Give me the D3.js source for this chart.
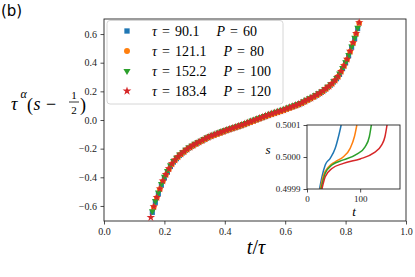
<!DOCTYPE html>
<meta charset="utf-8">
<svg width="415" height="277"></svg>
<style>
  body { margin: 0; background: #fff; }
  svg { display: block; font-family: "Liberation Serif", serif; }
</style>
<script src="https://d3js.org/d3.v7.min.js"></script>
<script>
// legend labels
var tauLabels = ["90.1", "121.1", "152.2", "183.4"];
var pLabels = ["60", "80", "100", "120"];
var colors = ["#1f77b4", "#ff7f0e", "#2ca02c", "#d62728"];

// main panel: t/tau and tau^alpha (s - 1/2), one pair of arrays per run
var blueT = [0.16,0.17,0.18,0.19,0.20,0.21,0.22,0.23,0.24,0.25,0.26,0.27,0.28,0.29,0.30,0.31,0.32,0.33,0.34,0.35,0.36,0.37,0.38,0.39,0.40,0.41,0.42,0.43,0.44,0.45,0.46,0.47,0.48,0.49,0.50,
             0.51,0.52,0.53,0.54,0.55,0.56,0.57,0.58,0.59,0.60,0.61,0.62,0.63,0.64,0.65,0.66,0.67,0.68,0.69,0.70,0.71,0.72,0.73,0.74,0.75,0.76,0.77,0.78,0.79,0.80,0.81,0.82,0.83,0.84];
var blueV = [-0.645,-0.575,-0.515,-0.455,-0.405,-0.365,-0.325,-0.294,-0.270,-0.248,-0.230,-0.213,-0.197,-0.185,-0.172,-0.161,-0.150,-0.139,-0.128,-0.117,-0.109,-0.101,-0.093,-0.085,-0.077,-0.070,-0.063,-0.056,-0.049,-0.042,-0.034,-0.026,-0.018,-0.010,-0.002,
             0.006,0.014,0.022,0.030,0.038,0.045,0.052,0.059,0.066,0.073,0.081,0.089,0.097,0.105,0.113,0.124,0.135,0.146,0.157,0.168,0.181,0.193,0.209,0.226,0.243,0.265,0.288,0.318,0.358,0.398,0.448,0.508,0.568,0.638];

var orangeT = [0.165,0.175,0.185,0.195,0.205,0.215,0.225,0.235,0.245,0.255,0.265,0.275,0.285,0.295,0.305,0.315,0.325,0.335,0.345,0.355,0.365,0.375,0.385,0.395,0.405,0.415,0.425,0.435,0.445,0.455,0.465,0.475,0.485,0.495,
               0.505,0.515,0.525,0.535,0.545,0.555,0.565,0.575,0.585,0.595,0.605,0.615,0.625,0.635,0.645,0.655,0.665,0.675,0.685,0.695,0.705,0.715,0.725,0.735,0.745,0.755,0.765,0.775,0.785,0.795,0.805,0.815,0.825,0.835,0.845];
var orangeV = [-0.608,-0.543,-0.483,-0.428,-0.383,-0.343,-0.308,-0.281,-0.259,-0.239,-0.223,-0.206,-0.192,-0.179,-0.167,-0.156,-0.145,-0.134,-0.123,-0.114,-0.106,-0.098,-0.090,-0.082,-0.074,-0.067,-0.060,-0.053,-0.046,-0.039,-0.031,-0.023,-0.015,-0.007,
               0.001,0.009,0.017,0.025,0.033,0.040,0.047,0.054,0.061,0.068,0.076,0.084,0.092,0.100,0.108,0.117,0.128,0.139,0.150,0.161,0.173,0.186,0.200,0.217,0.233,0.253,0.275,0.302,0.337,0.377,0.422,0.477,0.537,0.602,0.677];

var greenT = [0.16,0.17,0.18,0.19,0.20,0.21,0.22,0.23,0.24,0.25,0.26,0.27,0.28,0.29,0.30,0.31,0.32,0.33,0.34,0.35,0.36,0.37,0.38,0.39,0.40,0.41,0.42,0.43,0.44,0.45,0.46,0.47,0.48,0.49,0.50,
              0.51,0.52,0.53,0.54,0.55,0.56,0.57,0.58,0.59,0.60,0.61,0.62,0.63,0.64,0.65,0.66,0.67,0.68,0.69,0.70,0.71,0.72,0.73,0.74,0.75,0.76,0.77,0.78,0.79,0.80,0.81,0.82,0.83,0.84];
var greenV = [-0.636,-0.566,-0.506,-0.446,-0.396,-0.356,-0.316,-0.286,-0.263,-0.241,-0.224,-0.207,-0.191,-0.179,-0.166,-0.155,-0.144,-0.133,-0.122,-0.111,-0.103,-0.095,-0.087,-0.079,-0.071,-0.064,-0.057,-0.050,-0.043,-0.036,-0.028,-0.020,-0.012,-0.004,0.004,
              0.012,0.020,0.028,0.036,0.044,0.051,0.058,0.065,0.072,0.079,0.087,0.095,0.103,0.111,0.119,0.130,0.141,0.152,0.163,0.174,0.187,0.199,0.215,0.232,0.249,0.271,0.294,0.324,0.364,0.404,0.454,0.514,0.574,0.644];

var redT = [0.155,0.165,0.175,0.185,0.195,0.205,0.215,0.225,0.235,0.245,0.255,0.265,0.275,0.285,0.295,0.305,0.315,0.325,0.335,0.345,0.355,0.365,0.375,0.385,0.395,0.405,0.415,0.425,0.435,0.445,0.455,0.465,0.475,0.485,0.495,
            0.505,0.515,0.525,0.535,0.545,0.555,0.565,0.575,0.585,0.595,0.605,0.615,0.625,0.635,0.645,0.655,0.665,0.675,0.685,0.695,0.705,0.715,0.725,0.735,0.745,0.755,0.765,0.775,0.785,0.795,0.805,0.815,0.825,0.835,0.845];
var redV = [-0.680,-0.605,-0.540,-0.480,-0.425,-0.380,-0.340,-0.305,-0.278,-0.256,-0.236,-0.220,-0.203,-0.189,-0.176,-0.164,-0.153,-0.142,-0.131,-0.120,-0.111,-0.103,-0.095,-0.087,-0.079,-0.071,-0.064,-0.057,-0.050,-0.043,-0.036,-0.028,-0.020,-0.012,-0.004,
            0.004,0.012,0.020,0.028,0.036,0.043,0.050,0.057,0.064,0.071,0.079,0.087,0.095,0.103,0.111,0.120,0.131,0.142,0.153,0.164,0.176,0.189,0.203,0.220,0.236,0.256,0.278,0.305,0.340,0.380,0.425,0.480,0.540,0.605,0.680];

// inset: t and s
var inBlueT = [23.6,28.1,34.3,43.7,53.1,59.3,64.3];
var inBlueS = [0.4999,0.499938,0.499975,0.499996,0.500027,0.500064,0.5001];
var inOrangeT = [25,31.1,40.5,53.1,68.6,81.2,89.3,93.8];
var inOrangeS = [0.4999,0.499943,0.499969,0.499985,0.500001,0.500027,0.500064,0.5001];
var inGreenT = [26.3,34.3,46.9,68.6,93.8,109.3,117.4,121.1];
var inGreenS = [0.4999,0.499949,0.499975,0.499991,0.500009,0.500032,0.500064,0.5001];
var inRedT = [28.1,34.3,46.9,68.6,100,124.9,140.6,146.8,150.6];
var inRedS = [0.4999,0.499938,0.499964,0.49998,0.499994,0.500012,0.500038,0.500064,0.5001];

var xTicks = [0, 0.2, 0.4, 0.6, 0.8, 1.0];
var yTicks = [-0.6, -0.4, -0.2, 0, 0.2, 0.4, 0.6];
var inXTicks = [0, 100];
var inYTicks = [0.4999, 0.5000, 0.5001];

var svg = d3.select("svg");
var ink = "#222";

var x = d3.scaleLinear().domain([0, 1]).range([104, 406]);
var y = d3.scaleLinear().domain([-0.705, 0.705]).range([221, 19]);

var fmt1 = d3.format(".1f");

var gx = svg.append("g")
    .attr("transform", "translate(0," + 221 + ")")
    .call(d3.axisBottom(x).tickValues(xTicks).tickFormat(fmt1).tickSizeOuter(0).tickSize(3.5).tickPadding(3));
var gy = svg.append("g")
    .attr("transform", "translate(" + 104 + ",0)")
    .call(d3.axisLeft(y).tickValues(yTicks).tickFormat(fmt1).tickSizeOuter(0).tickSize(3.5).tickPadding(3.5));
[gx, gy].forEach(function(g) {
  g.select(".domain").remove();
  g.attr("font-family", null);
  g.selectAll("line").attr("stroke", ink).attr("stroke-width", 0.8);
  g.selectAll("text").attr("fill", ink).style("font-family", "'Liberation Serif'").style("font-size", "10px");
});

svg.append("rect")
    .attr("x", 104).attr("y", 19).attr("width", 302).attr("height", 202)
    .attr("fill", "none").attr("stroke", ink).attr("stroke-width", 0.9);

// scatter
var series = [
  {t: blueT, v: blueV, sym: d3.symbolSquare, size: 26, rot: 0},
  {t: orangeT, v: orangeV, sym: d3.symbolCircle, size: 26, rot: 0},
  {t: greenT, v: greenV, sym: d3.symbolTriangle, size: 20, rot: 180},
  {t: redT, v: redV, sym: d3.symbolStar, size: 22, rot: 0}
];

series.forEach(function(s, k) {
  var pts = s.t.map(function(d, i) { return [d, s.v[i]]; });
  svg.append("g").selectAll("path")
      .data(pts).enter().append("path")
      .attr("d", d3.symbol().type(s.sym).size(s.size))
      .attr("transform", function(d) { return "translate(" + x(d[0]) + "," + y(d[1]) + ") rotate(" + s.rot + ")"; })
      .attr("fill", colors[k]);
});

// legend
var leg = svg.append("g");
leg.append("rect")
    .attr("x", 107).attr("y", 20.5).attr("width", 176).attr("height", 83.5).attr("rx", 3)
    .attr("fill", "#fff").attr("fill-opacity", 0.8).attr("stroke", "#ccc").attr("stroke-width", 0.8);

series.forEach(function(s, k) {
  var cy = 31 + k * 20;
  leg.append("path")
      .attr("d", d3.symbol().type(s.sym).size(s.size + 2))
      .attr("transform", "translate(127," + cy + ") rotate(" + s.rot + ")")
      .attr("fill", colors[k]);
  var t = leg.append("text").attr("x", 152).attr("y", cy + 4.5)
      .style("font-size", "14px").attr("fill", "#000");
  t.append("tspan").style("font-style", "italic").text("τ");
  t.append("tspan").attr("dx", 5).text("=");
  t.append("tspan").attr("dx", 5).text(tauLabels[k]);
  t.append("tspan").attr("dx", 17).style("font-style", "italic").text("P");
  t.append("tspan").attr("dx", 5).text("=");
  t.append("tspan").attr("dx", 5).text(pLabels[k]);
});

// y label
var yl = svg.append("g").attr("fill", "#000");
yl.append("text").attr("x", 11).attr("y", 110).style("font-size", "18px").style("font-style", "italic").text("τ");
yl.append("text").attr("x", 20.5).attr("y", 98).style("font-size", "12px").style("font-style", "italic").text("α");
yl.append("text").attr("x", 27).attr("y", 111).style("font-size", "18px").text("(");
yl.append("text").attr("x", 33.5).attr("y", 110).style("font-size", "18px").style("font-style", "italic").text("s");
yl.append("text").attr("x", 46).attr("y", 110).style("font-size", "18px").text("−");
yl.append("text").attr("x", 74).attr("y", 99).attr("text-anchor", "middle").style("font-size", "11px").text("1");
yl.append("line").attr("x1", 69).attr("x2", 79).attr("y1", 102).attr("y2", 102).attr("stroke", "#000").attr("stroke-width", 0.8);
yl.append("text").attr("x", 74).attr("y", 114).attr("text-anchor", "middle").style("font-size", "11px").text("2");
yl.append("text").attr("x", 80).attr("y", 111).style("font-size", "18px").text(")");

// x label
var xl = svg.append("text").attr("x", 256).attr("y", 254).attr("text-anchor", "middle")
    .style("font-size", "20px").attr("fill", "#000");
xl.append("tspan").style("font-style", "italic").text("t");
xl.append("tspan").text("/");
xl.append("tspan").style("font-style", "italic").text("τ");

// panel tag
svg.append("text").attr("x", 1).attr("y", 16)
    .style("font-family", "DejaVu Sans").style("font-size", "15px").attr("fill", "#000").text("(b)");

// inset
var xi = d3.scaleLinear().domain([0, 175]).range([307, 400]);
var yi = d3.scaleLinear().domain([0.4999, 0.5001]).range([189, 125]);

svg.append("rect").attr("x", 307).attr("y", 125).attr("width", 93).attr("height", 64).attr("fill", "#fff");

svg.append("clipPath").attr("id", "inclip").append("rect")
    .attr("x", 307).attr("y", 125).attr("width", 93).attr("height", 64);

var line = d3.line().curve(d3.curveMonotoneX)
    .x(function(d) { return xi(d[0]); })
    .y(function(d) { return yi(d[1]); });

var inset = [[inBlueT, inBlueS], [inOrangeT, inOrangeS], [inGreenT, inGreenS], [inRedT, inRedS]];
inset.forEach(function(c, k) {
  svg.append("path")
      .datum(c[0].map(function(d, i) { return [d, c[1][i]]; }))
      .attr("clip-path", "url(#inclip)")
      .attr("fill", "none").attr("stroke", colors[k]).attr("stroke-width", 1.5)
      .attr("d", line);
});

var gxi = svg.append("g").attr("transform", "translate(0,189)")
    .call(d3.axisBottom(xi).tickValues(inXTicks).tickFormat(d3.format("d")).tickSizeOuter(0).tickSize(3.5).tickPadding(3));
var gyi = svg.append("g").attr("transform", "translate(307,0)")
    .call(d3.axisLeft(yi).tickValues(inYTicks).tickFormat(d3.format(".4f")).tickSizeOuter(0).tickSize(3.5).tickPadding(3));
[gxi, gyi].forEach(function(g) {
  g.select(".domain").remove();
  g.attr("font-family", null);
  g.selectAll("line").attr("stroke", ink).attr("stroke-width", 0.8);
  g.selectAll("text").attr("fill", ink).style("font-family", "'Liberation Serif'").style("font-size", "9px");
});
svg.append("rect").attr("x", 307).attr("y", 125).attr("width", 93).attr("height", 64)
    .attr("fill", "none").attr("stroke", ink).attr("stroke-width", 0.9);

svg.append("text").attr("x", 354).attr("y", 216).attr("text-anchor", "middle")
    .style("font-size", "13px").style("font-style", "italic").attr("fill", "#000").text("t");
svg.append("text").attr("x", 268).attr("y", 154).attr("text-anchor", "middle")
    .style("font-size", "13px").style("font-style", "italic").attr("fill", "#000").text("s");
</script>
